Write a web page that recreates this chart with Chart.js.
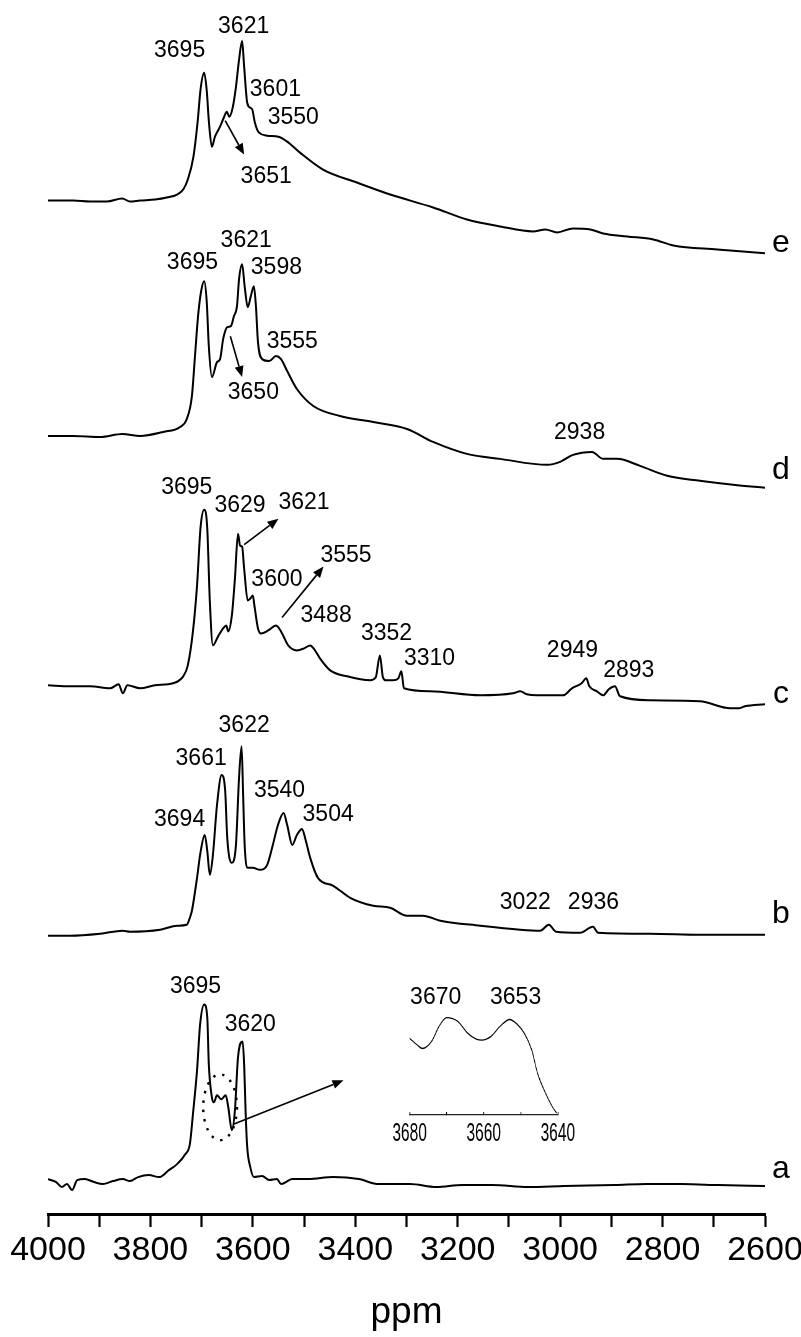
<!DOCTYPE html>
<html>
<head>
<meta charset="utf-8">
<title>OH stretching region spectra a–e</title>
<script src="https://cdn.jsdelivr.net/npm/chart.js@4.4.1/dist/chart.umd.min.js"></script>
<style>
  html, body { margin: 0; padding: 0; background: #fff; }
  #wrap { position: relative; width: 801px; height: 1337px; overflow: hidden; }
  #main { position: absolute; left: 0; top: 0; }
  /* the zoomed inset uses narrow lettering, so its canvas is squeezed horizontally */
  #inset { position: absolute; left: 391.4px; top: 1000px; transform: scaleX(0.62); transform-origin: 0 0; }
</style>
</head>
<body>
<div id="wrap">
  <canvas id="main" width="801" height="1337"></canvas>
  <canvas id="inset" width="300" height="160"></canvas>
</div>
<script>
// ---------- spectra: chemical shift (ppm) and intensity (a.u., relative to each trace's own baseline) ----------
const ppmE = [4000, 3951, 3918, 3885, 3855, 3840, 3820, 3791, 3768, 3748, 3736, 3727, 3716, 3708, 3702, 3695, 3690, 3686, 3680, 3674, 3664, 3656, 3651, 3646, 3639, 3633, 3627, 3621, 3617, 3611, 3605, 3601, 3596, 3588, 3572, 3550, 3533, 3508, 3463, 3397, 3332, 3248, 3182, 3117, 3053, 3029, 3006, 2975, 2941, 2916, 2869, 2818, 2779, 2693, 2600];
const intE = [0, 0, -1, -1, 2, -1, 0, 1, 3, 6, 11, 21, 44, 78, 112, 128, 110, 80, 54, 64, 74, 84, 89, 84, 94, 114, 141, 160, 134, 98, 93, 91, 78, 68, 65, 64, 59, 48, 31, 18, 6, -7, -19, -26, -31, -29, -32, -28, -29, -33, -36, -39, -45, -49, -53];

const ppmD = [4000, 3951, 3898, 3855, 3820, 3775, 3742, 3729, 3719, 3713, 3707, 3701, 3695, 3690, 3686, 3680, 3670, 3664, 3658, 3650, 3643, 3637, 3631, 3627, 3621, 3616, 3610, 3604, 3598, 3594, 3590, 3582, 3568, 3555, 3545, 3533, 3514, 3482, 3430, 3365, 3299, 3248, 3182, 3117, 3025, 3000, 2975, 2938, 2916, 2889, 2844, 2791, 2727, 2662, 2600];
const intD = [0, 0, -1, 2, 0, 4, 9, 17, 40, 80, 120, 145, 155, 134, 90, 59, 74, 77, 97, 109, 110, 120, 130, 157, 172, 150, 129, 140, 150, 130, 94, 77, 75, 80, 77, 65, 47, 30, 20, 14, 7, -6, -18, -23, -29, -26, -19, -16, -23, -23, -30, -40, -45, -49, -52];

const ppmC = [4000, 3957, 3918, 3879, 3862, 3854, 3845, 3820, 3791, 3756, 3736, 3727, 3717, 3709, 3702, 3695, 3689, 3684, 3678, 3668, 3658, 3652, 3648, 3641, 3635, 3629, 3625, 3621, 3617, 3610, 3605, 3600, 3597, 3590, 3584, 3570, 3555, 3545, 3531, 3514, 3500, 3488, 3480, 3469, 3449, 3416, 3371, 3360, 3352, 3346, 3340, 3326, 3316, 3310, 3305, 3254, 3156, 3092, 3078, 3065, 3045, 2994, 2977, 2965, 2958, 2949, 2943, 2928, 2916, 2905, 2893, 2883, 2824, 2727, 2668, 2650, 2639, 2600];
const intC = [1, 0, 0, -2, 2, -7, 1, -2, 1, 3, 10, 21, 55, 101, 160, 177, 158, 85, 41, 50, 58, 61, 55, 71, 108, 153, 141, 140, 118, 86, 88, 91, 81, 58, 53, 56, 61, 55, 41, 36, 38, 41, 37, 28, 16, 10, 6, 9, 31, 9, 6, 6, 8, 15, -2, -5, -9, -7, -5, -8, -9, -9, -2, 1, 3, 8, 0, -5, -9, -3, 0, -10, -14, -15, -22, -22, -20, -18];

const ppmB = [4000, 3957, 3898, 3854, 3840, 3781, 3748, 3729, 3723, 3719, 3709, 3703, 3694, 3689, 3684, 3678, 3670, 3661, 3654, 3650, 3641, 3633, 3627, 3622, 3619, 3616, 3610, 3600, 3586, 3572, 3561, 3551, 3540, 3533, 3523, 3514, 3504, 3498, 3488, 3473, 3443, 3410, 3365, 3332, 3299, 3268, 3234, 3156, 3078, 3039, 3022, 3008, 2961, 2936, 2926, 2824, 2727, 2600];
const intB = [0, 0, 2, 5, 4, 6, 10, 11, 18, 25, 58, 81, 101, 85, 61, 81, 131, 161, 145, 98, 73, 91, 158, 190, 141, 91, 68, 68, 66, 71, 91, 111, 123, 111, 91, 101, 107, 98, 78, 58, 50, 38, 30, 28, 20, 20, 15, 10, 6, 5, 11, 4, 3, 9, 3, 2, 1, 1];

const ppmA = [4000, 3984, 3973, 3963, 3953, 3943, 3928, 3910, 3893, 3873, 3854, 3840, 3824, 3803, 3783, 3764, 3748, 3732, 3723, 3717, 3709, 3703, 3695, 3689, 3686, 3680, 3676, 3670, 3662, 3653, 3648, 3641, 3635, 3629, 3620, 3617, 3614, 3611, 3605, 3598, 3582, 3568, 3553, 3545, 3523, 3492, 3443, 3393, 3354, 3293, 3242, 3191, 3133, 3062, 2992, 2893, 2832, 2762, 2691, 2600];
const intA = [1, -2, -7, -4, -10, 0, 1, -2, -4, -1, 1, -1, 3, 5, 3, 10, 16, 26, 36, 66, 110, 156, 176, 163, 116, 83, 78, 85, 81, 85, 73, 50, 70, 123, 139, 116, 66, 33, 13, 3, 4, 0, 1, -4, 1, 1, 3, 1, -4, -4, -7, -5, -5, -7, -6, -5, -4, -4, -5, -6];

// expanded view of spectrum a between 3680 and 3640 ppm
const ppmInset = [3680, 3678, 3676.5, 3674, 3672, 3670, 3667, 3664.5, 3662, 3660.5, 3658, 3655.5, 3653, 3651, 3649, 3647, 3645.5, 3643.5, 3641.5, 3640.3];
const intInset = [82, 75, 71, 79, 95, 104, 100, 88, 81, 80, 84, 95, 102, 97, 87, 69, 45, 25, 9, 2];

// trace names and vertical stacking offsets
const traceNames = ['a', 'b', 'c', 'd', 'e'];
const stackOffsets = [34, 279, 529, 780, 1016];

// axis ticks
const mainTickLabels = [4000, 3800, 3600, 3400, 3200, 3000, 2800, 2600];
const insetTickLabels = [3680, 3660, 3640];

// ---------- annotations (ppm, stacked level) ----------
const peakLabels = [
  ['3695', 3743, 1166], ['3621', 3618, 1190], ['3601', 3556, 1127], ['3550', 3521, 1099], ['3651', 3574, 1040],
  ['3695', 3718, 954], ['3621', 3613, 976], ['3598', 3554, 949], ['3555', 3523, 875], ['3650', 3599, 823], ['2938', 2962, 783],
  ['3695', 3729, 728], ['3629', 3625, 710], ['3621', 3500, 713], ['3600', 3553, 636], ['3555', 3418, 660],
  ['3488', 3457, 600], ['3352', 3339, 582], ['3310', 3255, 557], ['2949', 2976, 565], ['2893', 2866, 545],
  ['3694', 3743, 395], ['3661', 3701, 456], ['3622', 3617, 490], ['3540', 3548, 424], ['3504', 3453, 400],
  ['3022', 3068, 312], ['2936', 2935, 312],
  ['3695', 3712, 228], ['3620', 3605, 190],
  ['3670', 3243, 217], ['3653', 3087, 217]
];
const namePositions = [[2569, 45], [2569, 301], [2569, 521], [2569, 746], [2569, 973]];
const arrows = [
  [3654, 1096, 3617, 1062],
  [3644, 880, 3621, 839],
  [3617, 671, 3550, 697],
  [3543, 598, 3462, 649],
  [3638, 90, 3423, 134]
];
const circled = { ppm: 3664, level: 107, halfPpm: 33, halfLevel: 33 };

const FONT = "'Liberation Sans', Arial, Helvetica, sans-serif";
Chart.defaults.font.family = FONT;
Chart.defaults.color = '#000';

function series(ppm, vals, offset) {
  return ppm.map((p, i) => ({ x: p, y: offset + vals[i] }));
}

const spectra = [[ppmA, intA], [ppmB, intB], [ppmC, intC], [ppmD, intD], [ppmE, intE]];

function arrowHead(ctx, x1, y1, x2, y2) {
  const ang = Math.atan2(y2 - y1, x2 - x1);
  const len = 11, half = 4.5;
  const bx = x2 - len * Math.cos(ang), by = y2 - len * Math.sin(ang);
  ctx.beginPath();
  ctx.moveTo(x1, y1);
  ctx.lineTo(bx, by);
  ctx.stroke();
  ctx.beginPath();
  ctx.moveTo(x2, y2);
  ctx.lineTo(bx + half * Math.sin(ang), by - half * Math.cos(ang));
  ctx.lineTo(bx - half * Math.sin(ang), by + half * Math.cos(ang));
  ctx.closePath();
  ctx.fill();
}

const annotate = {
  id: 'annotate',
  afterDatasetsDraw(chart) {
    const { ctx, scales: { x, y } } = chart;
    const px = v => x.getPixelForValue(v);
    const py = v => y.getPixelForValue(v);
    ctx.save();
    ctx.fillStyle = '#000';
    ctx.strokeStyle = '#000';
    ctx.textAlign = 'center';
    ctx.textBaseline = 'middle';

    ctx.font = '23px ' + FONT;
    peakLabels.forEach(([t, p, l]) => ctx.fillText(t, px(p), py(l)));

    ctx.font = '32px ' + FONT;
    traceNames.forEach((n, i) => ctx.fillText(n, px(namePositions[i][0]), py(namePositions[i][1])));

    ctx.lineWidth = 1.6;
    arrows.forEach(([p1, l1, p2, l2]) => arrowHead(ctx, px(p1), py(l1), px(p2), py(l2)));

    // dotted ring around the 3670/3653 doublet of spectrum a
    const cx = px(circled.ppm), cy = py(circled.level);
    const rx = Math.abs(px(circled.ppm + circled.halfPpm) - cx);
    const ry = Math.abs(py(circled.level + circled.halfLevel) - cy);
    ctx.lineWidth = 2.4;
    ctx.setLineDash([2.4, 7]);
    ctx.beginPath();
    ctx.ellipse(cx, cy, rx, ry, 0, 0, Math.PI * 2);
    ctx.stroke();
    ctx.restore();
  }
};

new Chart(document.getElementById('main'), {
  type: 'line',
  data: {
    datasets: spectra.map(([p, v], i) => ({
      label: traceNames[i],
      data: series(p, v, stackOffsets[i]),
      borderColor: '#000',
      borderWidth: 2,
      pointRadius: 0,
      fill: false,
      cubicInterpolationMode: 'monotone'
    }))
  },
  options: {
    responsive: false,
    animation: false,
    devicePixelRatio: 1,
    layout: { padding: { left: 48, right: 36, top: 0, bottom: 0 } },
    plugins: { legend: { display: false }, tooltip: { enabled: false } },
    scales: {
      x: {
        type: 'linear',
        reverse: true,
        min: 2600,
        max: 4000,
        afterFit(s) { s.paddingLeft = 0; s.paddingRight = 0; },
        ticks: {
          stepSize: 100,
          autoSkip: false,
          maxRotation: 0,
          padding: 3,
          color: '#000',
          font: { size: 34 },
          callback: v => (mainTickLabels.includes(v) ? String(v) : '')
        },
        grid: { display: true, drawOnChartArea: false, drawTicks: true, tickLength: 13, tickWidth: 2.2, tickColor: '#000' },
        border: { display: true, color: '#000', width: 3 },
        title: { display: true, text: 'ppm', color: '#000', font: { size: 37 }, padding: { top: 16.8, bottom: 2 } }
      },
      y: { type: 'linear', min: 0, max: 1217, display: false }
    }
  },
  plugins: [annotate]
});

new Chart(document.getElementById('inset'), {
  type: 'line',
  data: {
    datasets: [{
      data: ppmInset.map((p, i) => ({ x: p, y: intInset[i] })),
      borderColor: '#000',
      borderWidth: 1.3,
      pointRadius: 0,
      fill: false,
      cubicInterpolationMode: 'monotone'
    }]
  },
  options: {
    responsive: false,
    animation: false,
    devicePixelRatio: 1,
    layout: { padding: { left: 30, right: 31, top: 12, bottom: 4 } },
    plugins: { legend: { display: false }, tooltip: { enabled: false } },
    scales: {
      x: {
        type: 'linear',
        reverse: true,
        min: 3640,
        max: 3680,
        afterFit(s) { s.paddingLeft = 0; s.paddingRight = 0; },
        ticks: {
          stepSize: 10,
          autoSkip: false,
          maxRotation: 0,
          padding: 7,
          color: '#000',
          font: { size: 25 },
          callback: v => (insetTickLabels.includes(v) ? String(v) : '')
        },
        grid: { display: true, drawOnChartArea: false, drawTicks: true, tickLength: -3, tickWidth: 1.4, tickColor: '#000' },
        border: { display: true, color: '#222', width: 1.2 }
      },
      y: { type: 'linear', min: 0, max: 110, display: false }
    }
  }
});
</script>
</body>
</html>
